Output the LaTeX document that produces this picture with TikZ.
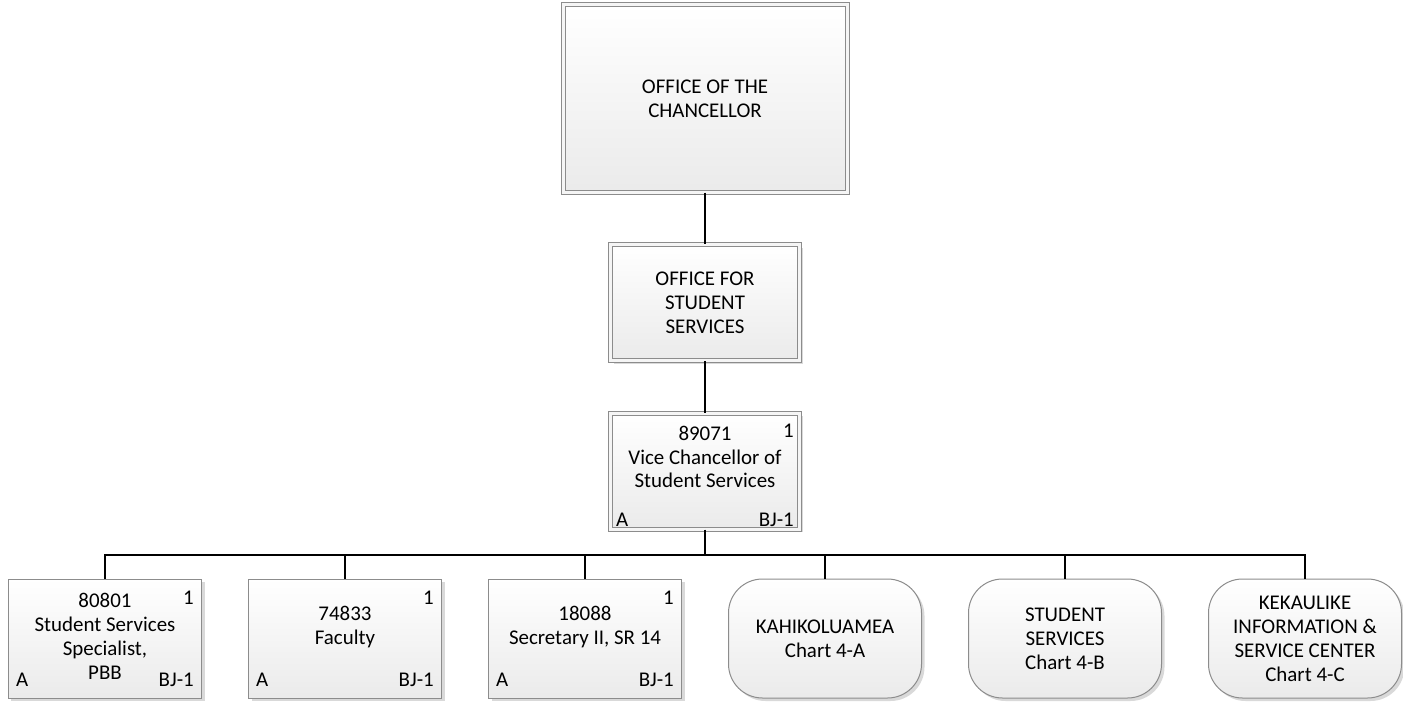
\documentclass[tikz,border=0pt]{standalone}
\usepackage{fontspec}
\setmainfont{Carlito}
\usetikzlibrary{shadows}

\definecolor{boxline}{HTML}{8C8C8C}

\tikzset{
  orgbox/.style={rectangle, draw=boxline, line width=1bp, top color=white, bottom color=black!8,
    drop shadow={shadow xshift=3bp, shadow yshift=-3bp, fill=black!15, opacity=1},
    inner sep=0pt, align=center},
  dblbox/.style={orgbox, double=black!4, double distance=3bp},
  posbox/.style={orgbox, minimum width=193bp, minimum height=119bp},
  chartbox/.style={posbox, rounded corners=34bp},
  corner/.style={inner sep=0pt},
  conn/.style={draw=black, line width=2bp}
}

\begin{document}
\begin{tikzpicture}[x=1bp, y=-1bp, font=\fontsize{21}{24}\selectfont]

  \useasboundingbox (0,0) rectangle (1403,706);

  \node (chancellor) at (705,98.5) [dblbox, minimum width=284bp, minimum height=187bp] {OFFICE OF THE\\CHANCELLOR};
  \node (oss) at (705,302.5) [dblbox, minimum width=189bp, minimum height=116bp] {OFFICE FOR\\STUDENT\\SERVICES};

  \node (vc) at (705,471) [dblbox, minimum width=189bp, minimum height=116bp] {};
  \node (vc-title) at (705,457) [align=center] {89071\\Vice Chancellor of\\Student Services};
  \node (vc-count) at (vc.north east) [corner, anchor=north east, xshift=-6bp, yshift=-11bp] {1};
  \node (vc-type) at (vc.south west) [corner, anchor=base west, xshift=6bp, yshift=3bp] {A};
  \node (vc-grade) at (vc.south east) [corner, anchor=base east, xshift=-6bp, yshift=3bp] {BJ-1};

  \coordinate (bus) at (705,555);
  \draw [conn] (chancellor) -- (oss);
  \draw [conn] (oss) -- (vc);
  \draw [conn] (vc) -- (bus);

  % position boxes
  \foreach \i/\posnum/\jobtitle/\ty in {0/80801/{Student Services\\Specialist,\\PBB}/636,
                                        1/74833/Faculty/627,
                                        2/18088/{Secretary II, SR 14}/627}
  {
    \pgfmathsetmacro{\x}{105+240*\i}
    \node (pos\i) at (\x,638.5) [posbox] {};
    \node (pos\i-title) at (\x,\ty) [align=center] {\posnum\\\jobtitle};
    \node (pos\i-count) at (pos\i.north east) [corner, anchor=north east, xshift=-8bp, yshift=-12bp] {1};
    \node (pos\i-type) at (pos\i.south west) [corner, anchor=base west, xshift=8bp, yshift=12bp] {A};
    \node (pos\i-grade) at (pos\i.south east) [corner, anchor=base east, xshift=-8bp, yshift=12bp] {BJ-1};
    \draw [conn] (bus) -| (pos\i);
  }

  % chart references
  \foreach \i/\jobtitle in {3/{KAHIKOLUAMEA\\Chart 4-A},
                            4/{STUDENT\\SERVICES\\Chart 4-B},
                            5/{KEKAULIKE\\INFORMATION \&\\SERVICE CENTER\\Chart 4-C}}
  {
    \pgfmathsetmacro{\x}{105+240*\i}
    \node (chart\i) at (\x,638.5) [chartbox] {\jobtitle};
    \draw [conn] (bus) -| (chart\i);
  }

\end{tikzpicture}
\end{document}
